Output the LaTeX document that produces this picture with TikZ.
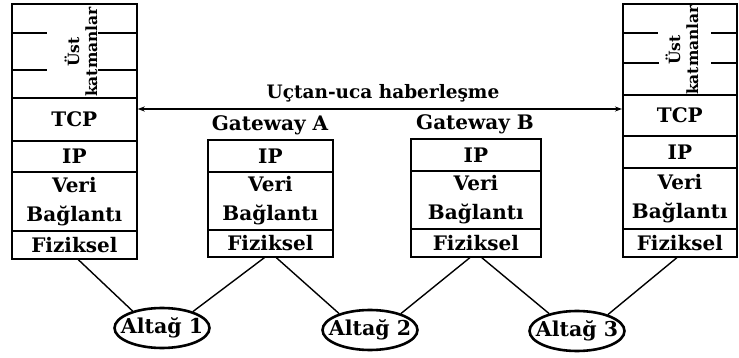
\documentclass[tikz,border=0pt]{standalone}
\usepackage{fontspec}
\setmainfont{DejaVu Serif}
\usetikzlibrary{shapes.geometric,arrows.meta}
\begin{document}
\begin{tikzpicture}[x=1pt,y=-1pt,
  lay/.style={draw, line width=1.7pt, inner sep=0pt, anchor=north west,
    font=\fontsize{20}{29}\selectfont\bfseries, align=center},
  rot/.style={rotate=90, inner sep=0pt, align=center,
    font=\fontsize{15.5}{18}\selectfont\bfseries},
  gwlabel/.style={inner sep=0pt, font=\fontsize{20}{22}\selectfont\bfseries},
  titlelbl/.style={inner sep=0pt, font=\fontsize{18.5}{22}\selectfont\bfseries},
  subnet/.style={draw, ellipse, line width=2.6pt, minimum width=95pt,
    minimum height=40pt, inner sep=0pt, font=\fontsize{20.5}{22}\selectfont\bfseries},
  link/.style={line width=1.4pt},
  tick/.style={line width=1.4pt}]
\useasboundingbox (0,0) rectangle (739,358);

% left stack
\node[lay, minimum width=125pt, minimum height=94pt] (lust) at (11,3) {};
\node[rot] (lusttxt) at (81,52) {Üst\\katmanlar};
\node[lay, minimum width=125pt, minimum height=43pt] (ltcp) at (11,97) {TCP};
\node[lay, minimum width=125pt, minimum height=31pt] (lip) at (11,140) {IP};
\node[lay, minimum width=125pt, minimum height=59pt] (lveri) at (11,171) {Veri\\Bağlantı};
\node[lay, minimum width=125pt, minimum height=28pt] (lfiz) at (11,230) {Fiziksel};
\draw[tick] (11,33) -- (47,33) (98,33) -- (136,33);
\draw[tick] (11,70) -- (47,70) (98,70) -- (136,70);

% right stack
\node[lay, minimum width=114pt, minimum height=91pt] (rust) at (622,3) {};
\node[rot] (rusttxt) at (682,50) {Üst\\katmanlar};
\node[lay, minimum width=114pt, minimum height=41pt] (rtcp) at (622,94) {TCP};
\node[lay, minimum width=114pt, minimum height=32pt] (rip) at (622,135) {IP};
\node[lay, minimum width=114pt, minimum height=61pt] (rveri) at (622,167) {Veri\\Bağlantı};
\node[lay, minimum width=114pt, minimum height=28pt] (rfiz) at (622,228) {Fiziksel};
\draw[tick] (622,33) -- (658,33) (711,33) -- (736,33);
\draw[tick] (622,63) -- (659,63) (711,63) -- (736,63);

% gateway A
\node[gwlabel] (gAlbl) at (270,125) {Gateway A};
\node[lay, minimum width=125pt, minimum height=32pt] (gAip) at (207,139) {IP};
\node[lay, minimum width=125pt, minimum height=58pt] (gAveri) at (207,171) {Veri\\Bağlantı};
\node[lay, minimum width=125pt, minimum height=27pt] (gAfiz) at (207,229) {Fiziksel};

% gateway B
\node[gwlabel] (gBlbl) at (475,124) {Gateway B};
\node[lay, minimum width=130pt, minimum height=32pt] (gBip) at (410,138) {IP};
\node[lay, minimum width=130pt, minimum height=58pt] (gBveri) at (410,170) {Veri\\Bağlantı};
\node[lay, minimum width=130pt, minimum height=28pt] (gBfiz) at (410,228) {Fiziksel};

% end-to-end arrow
\node[titlelbl] (title) at (383,93) {Uçtan-uca haberleşme};
\coordinate (arrowy) at (0,109);
\draw[line width=1.3pt, {Stealth[length=7pt,width=5pt]}-{Stealth[length=7pt,width=5pt]}]
  (ltcp.east |- arrowy) -- (rtcp.west |- arrowy);

% subnets
\node[subnet] (alt1) at (162,328) {\makebox[0pt]{Altağ 1}};
\node[subnet] (alt2) at (370,330) {\makebox[0pt]{Altağ 2}};
\node[subnet] (alt3) at (577,331) {\makebox[0pt]{Altağ 3}};

\draw[link] ([xshift=4pt]lfiz.south) -- (alt1.150);
\draw[link] ([xshift=-6pt]gAfiz.south) -- (alt1.28);
\draw[link] ([xshift=6pt]gAfiz.south) -- (alt2.152);
\draw[link] ([xshift=-6pt]gBfiz.south) -- (alt2.28);
\draw[link] ([xshift=6pt]gBfiz.south) -- (alt3.148);
\draw[link] ([xshift=-3pt]rfiz.south) -- (alt3.28);
\end{tikzpicture}
\end{document}
